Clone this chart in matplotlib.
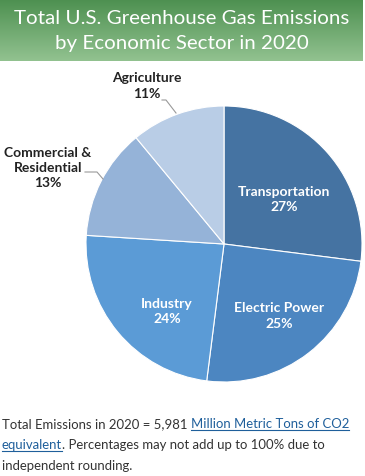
import matplotlib
matplotlib.use("Agg")
import matplotlib.pyplot as plt
import numpy as np
from matplotlib.colors import LinearSegmentedColormap

W, H = 365, 477
sectors = ["Transportation", "Electric Power", "Industry", "Commercial &\nResidential", "Agriculture"]
shares = [27, 25, 24, 13, 11]
colors = ["#4573a2", "#4c86c1", "#5b9bd6", "#95b3d8", "#b9cde6"]
title_lines = ["Total U.S. Greenhouse Gas Emissions", "by Economic Sector in 2020"]

font = "Lato"

fig = plt.figure(figsize=(W / 100, H / 100), dpi=100)
fig.patch.set_facecolor("white")
fig.canvas.draw()
renderer = fig.canvas.get_renderer()


def fx(x):
    return x / W


def fy(y):
    return 1 - y / H


def fit_text(x, y, s, width, size, **kw):
    t = fig.text(fx(x), fy(y), s, fontsize=size, **kw)
    bb = t.get_window_extent(renderer=renderer)
    t.set_fontsize(size * width / bb.width)
    return t


# title banner with gradient
bh = 62
bax = fig.add_axes([0, fy(bh), 363 / W, bh / H])
grad = np.linspace(0, 1, 100).reshape(-1, 1)
cmap = LinearSegmentedColormap.from_list("g", ["#4d9050", "#92c290"])
bax.imshow(grad, aspect="auto", cmap=cmap, extent=[0, 1, 0, 1], origin="upper")
bax.set_axis_off()
t1 = fit_text(182, 19, title_lines[0], 336, 15, ha="center", va="center",
              color="white", family=font)
fig.text(fx(182), fy(44), title_lines[1], ha="center", va="center", color="white",
         family=font, fontsize=t1.get_fontsize())

# pie
cx, cy, r = 224, 245, 138
ax = fig.add_axes([fx(cx - r), fy(cy + r), 2 * r / W, 2 * r / H])
wedges, _ = ax.pie(shares, colors=colors, startangle=90, counterclock=False,
                   wedgeprops=dict(edgecolor="white", linewidth=0.8), radius=1)
ax.set_xlim(-1, 1)
ax.set_ylim(-1, 1)
ax.set_aspect("equal")
ax.set_axis_off()

lab_font = dict(family=font, fontweight="bold", fontsize=10.0)
inside = {0: (284, 200), 1: (279, 316), 2: (167, 312)}
for i, (x, y) in inside.items():
    fig.text(fx(x), fy(y), f"{sectors[i]}\n{shares[i]}%", ha="center", va="center",
             color="white", linespacing=1.3, **lab_font)

# outside labels
fig.text(fx(48), fy(168), f"{sectors[3]}\n{shares[3]}%", ha="center", va="center",
         color="#222222", linespacing=1.3, **lab_font)
fig.text(fx(147), fy(86), f"{sectors[4]}\n{shares[4]}%", ha="center", va="center",
         color="#222222", linespacing=1.3, **lab_font)
# leader lines
fig.add_artist(plt.Line2D([fx(85), fx(97), fx(103)], [fy(173), fy(173), fy(180)],
                          color="#999999", lw=0.8))
fig.add_artist(plt.Line2D([fx(162), fx(166), fx(176)], [fy(101), fy(101), fy(114)],
                          color="#999999", lw=0.8))

# footer
txtc = "#333333"
linkc = "#1f5f9b"
probe = fit_text(2, 428, "Total Emissions in 2020 = 5,981 Million Metric Tons of CO2", 345, 10,
                 ha="left", va="baseline", family=font)
fs = probe.get_fontsize()
probe.remove()


def put(x, y, s, color, underline=False):
    t = fig.text(fx(x), fy(y), s, ha="left", va="baseline", color=color,
                 fontsize=fs, family=font)
    bb = t.get_window_extent(renderer=renderer)
    if underline:
        yy = fy(y + 2.5)
        fig.add_artist(plt.Line2D([bb.x0 / W, bb.x1 / W], [yy, yy], color=color, lw=0.8))
    return bb.x1 * W / fig.bbox.width


x = put(2, 428, "Total Emissions in 2020 = 5,981 ", txtc)
put(x, 428, "Million Metric Tons of CO2", linkc, True)
x = put(2, 449, "equivalent", linkc, True)
put(x, 449, ". Percentages may not add up to 100% due to", txtc)
put(2, 470, "independent rounding.", txtc)

fig.savefig("out.png", dpi=100, facecolor="white")
